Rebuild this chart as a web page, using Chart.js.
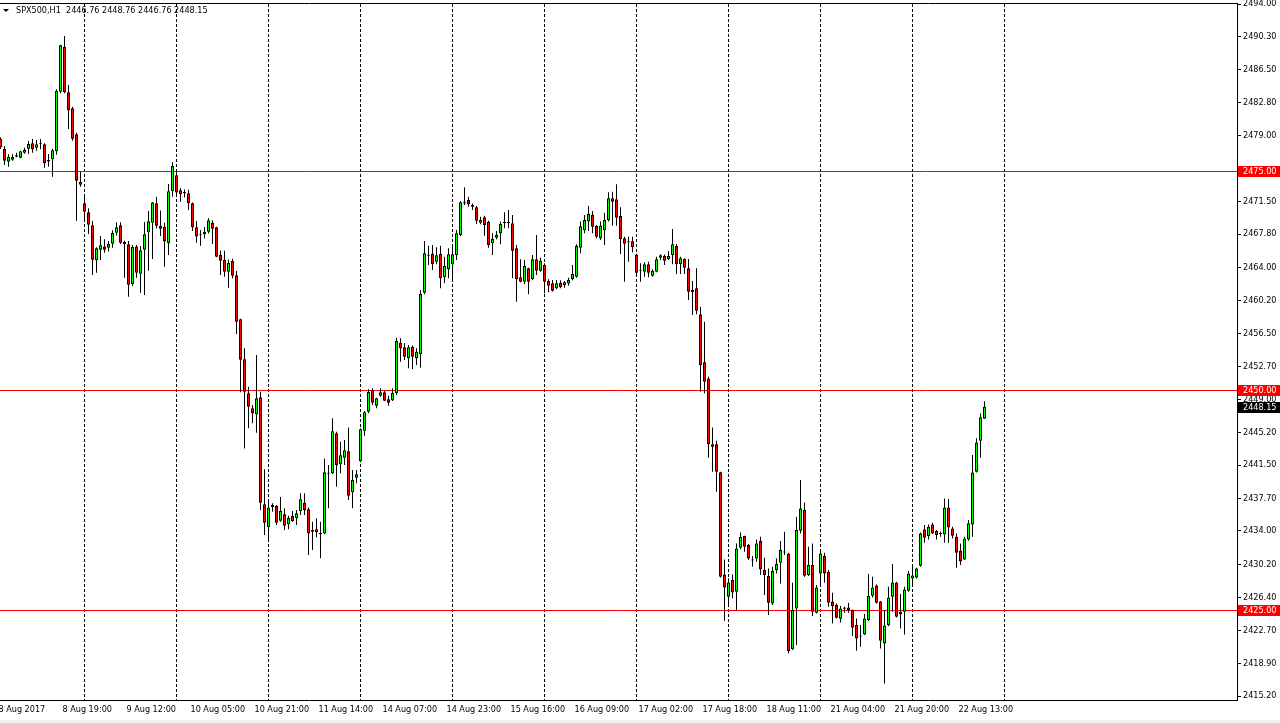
<!DOCTYPE html>
<html>
<head>
<meta charset="utf-8">
<title>SPX500,H1</title>
<script src="https://cdn.jsdelivr.net/npm/chart.js@4.4.1/dist/chart.umd.min.js"></script>
<style>
  html, body { margin: 0; padding: 0; background: #fff; overflow: hidden; }
  canvas { display: block; }
</style>
</head>
<body>
<canvas id="chart" width="1280" height="723"></canvas>
<script>
// SPX500 hourly candles, 8 Aug 2017 .. 22 Aug 2017 (one entry per bar)
const symbol = 'SPX500,H1';

const opens = [
  2478.63, 2477.49, 2476.05, 2476.27, 2476.62, 2476.50, 2477.07, 2477.53, 2478.13, 2477.64,
  2478.10, 2478.02, 2476.24, 2476.31, 2477.22, 2484.02, 2489.10, 2483.94, 2482.12, 2479.16,
  2473.73, 2471.30, 2470.28, 2468.80, 2464.81, 2466.02, 2466.40, 2466.25, 2466.71, 2467.96,
  2468.80, 2466.63, 2466.63, 2462.11, 2466.40, 2463.29, 2466.02, 2468.00, 2469.10, 2471.30,
  2468.72, 2468.61, 2466.75, 2472.67, 2474.49, 2472.78, 2472.59, 2472.44, 2471.30, 2468.57,
  2467.73, 2467.81, 2468.07, 2469.06, 2468.57, 2465.42, 2464.85, 2463.52, 2464.73, 2463.10,
  2458.09, 2453.54, 2449.67, 2447.96, 2447.27, 2449.21, 2437.03, 2434.41, 2436.95, 2436.84,
  2435.16, 2435.89, 2434.75, 2435.70, 2435.43, 2436.27, 2437.22, 2436.46, 2433.91, 2434.18,
  2433.80, 2433.72, 2440.44, 2440.56, 2445.11, 2441.58, 2442.34, 2443.06, 2438.39, 2440.06,
  2441.92, 2445.41, 2447.58, 2450.01, 2448.26, 2449.40, 2449.78, 2448.98, 2448.87, 2449.67,
  2455.44, 2454.91, 2453.65, 2454.98, 2453.65, 2454.11, 2461.13, 2465.42, 2465.57, 2464.66,
  2465.57, 2462.88, 2463.79, 2464.36, 2465.42, 2467.66, 2471.42, 2471.68, 2471.11, 2470.85,
  2469.10, 2469.71, 2469.18, 2466.75, 2467.39, 2467.89, 2469.10, 2469.06, 2469.03, 2466.18,
  2462.88, 2462.38, 2463.90, 2462.65, 2464.93, 2463.64, 2464.28, 2462.46, 2462.19, 2461.62,
  2462.23, 2462.00, 2462.16, 2462.65, 2462.95, 2466.25, 2468.23, 2469.22, 2469.97, 2468.72,
  2467.32, 2468.27, 2469.37, 2471.87, 2471.76, 2469.86, 2467.32, 2466.94, 2466.98, 2465.49,
  2463.67, 2463.52, 2464.36, 2463.07, 2463.52, 2465.12, 2465.31, 2464.93, 2465.42, 2466.44,
  2464.39, 2464.97, 2463.90, 2461.17, 2461.62, 2458.66, 2453.20, 2451.37, 2443.86, 2443.86,
  2440.67, 2429.05, 2426.51, 2428.41, 2427.08, 2432.08, 2433.41, 2432.39, 2430.76, 2430.87,
  2432.84, 2429.54, 2428.86, 2425.75, 2429.54, 2430.38, 2431.63, 2431.44, 2420.55, 2425.18,
  2434.02, 2436.37, 2428.97, 2430.11, 2424.68, 2429.16, 2431.14, 2429.35, 2425.97, 2425.56,
  2424.00, 2425.14, 2425.29, 2424.99, 2423.28, 2422.10, 2422.22, 2423.85, 2426.62, 2427.80,
  2425.97, 2421.19, 2423.28, 2426.51, 2428.10, 2424.80, 2424.80, 2427.19, 2428.59, 2428.71,
  2430.04, 2434.17, 2433.41, 2434.74, 2434.02, 2433.68, 2433.60, 2436.68, 2434.29, 2433.34,
  2431.74, 2430.76, 2433.03, 2434.74, 2440.74, 2444.27, 2446.76
];
const highs = [
  2478.82, 2477.83, 2476.88, 2476.88, 2477.07, 2477.30, 2477.64, 2478.40, 2478.63, 2478.51,
  2478.63, 2478.13, 2476.92, 2477.53, 2484.28, 2489.37, 2490.36, 2484.78, 2482.31, 2479.35,
  2474.91, 2472.36, 2470.73, 2469.29, 2466.29, 2467.58, 2467.20, 2467.01, 2468.23, 2469.14,
  2469.14, 2467.05, 2467.01, 2466.56, 2466.56, 2466.44, 2469.18, 2470.43, 2471.45, 2472.06,
  2470.50, 2469.10, 2473.50, 2475.97, 2475.02, 2473.05, 2472.89, 2472.86, 2471.41, 2469.29,
  2468.26, 2468.61, 2469.63, 2469.37, 2468.64, 2465.91, 2465.91, 2464.89, 2465.00, 2463.59,
  2458.17, 2454.79, 2450.43, 2448.34, 2454.03, 2449.86, 2441.01, 2437.44, 2437.14, 2436.95,
  2437.86, 2436.57, 2435.73, 2436.27, 2436.38, 2438.28, 2438.28, 2436.68, 2435.05, 2435.43,
  2435.05, 2442.26, 2441.50, 2446.82, 2445.30, 2444.16, 2444.35, 2445.79, 2440.94, 2440.94,
  2445.68, 2447.65, 2450.12, 2450.24, 2449.17, 2450.24, 2449.93, 2449.40, 2450.24, 2456.01,
  2455.93, 2455.36, 2455.17, 2455.10, 2454.79, 2461.43, 2467.01, 2466.48, 2466.56, 2466.29,
  2466.48, 2465.23, 2466.18, 2466.63, 2468.27, 2471.57, 2473.13, 2472.06, 2471.27, 2471.00,
  2469.78, 2469.90, 2469.33, 2467.90, 2468.15, 2469.22, 2470.28, 2470.54, 2469.97, 2466.56,
  2464.93, 2464.85, 2463.98, 2465.42, 2467.70, 2465.12, 2464.47, 2462.65, 2462.57, 2462.57,
  2462.54, 2462.46, 2462.84, 2464.28, 2466.63, 2469.22, 2469.97, 2471.00, 2470.43, 2468.84,
  2469.22, 2470.24, 2472.56, 2472.63, 2473.47, 2470.85, 2467.51, 2467.51, 2467.51, 2465.57,
  2464.47, 2464.58, 2464.66, 2463.79, 2465.23, 2465.49, 2465.49, 2465.87, 2468.38, 2466.67,
  2465.23, 2465.04, 2464.97, 2462.46, 2463.90, 2459.54, 2457.83, 2451.56, 2445.79, 2444.28,
  2440.75, 2430.76, 2428.60, 2429.05, 2432.58, 2433.83, 2433.45, 2432.50, 2431.14, 2433.03,
  2433.34, 2430.95, 2429.73, 2429.92, 2430.87, 2432.84, 2433.91, 2431.52, 2428.10, 2435.62,
  2439.79, 2437.25, 2432.20, 2432.58, 2427.83, 2431.63, 2431.52, 2429.54, 2426.96, 2425.75,
  2425.44, 2425.37, 2425.82, 2425.06, 2424.04, 2423.28, 2424.53, 2429.09, 2428.78, 2427.91,
  2426.01, 2424.99, 2427.64, 2430.22, 2428.21, 2426.81, 2427.64, 2429.43, 2430.11, 2429.81,
  2433.83, 2434.67, 2434.74, 2434.93, 2434.10, 2433.91, 2437.70, 2437.63, 2434.48, 2433.72,
  2432.58, 2433.34, 2435.24, 2442.64, 2444.54, 2447.38, 2448.76
];
const lows = [
  2477.49, 2475.67, 2475.48, 2476.16, 2476.54, 2476.43, 2476.96, 2476.92, 2477.07, 2477.30,
  2477.45, 2475.36, 2475.48, 2474.34, 2476.84, 2483.83, 2483.83, 2479.77, 2478.44, 2469.33,
  2473.20, 2469.33, 2467.81, 2463.14, 2463.41, 2464.85, 2465.68, 2465.83, 2466.25, 2467.62,
  2466.67, 2462.84, 2460.67, 2461.89, 2462.84, 2461.13, 2460.86, 2463.63, 2464.96, 2468.45,
  2467.58, 2464.09, 2465.42, 2472.06, 2472.06, 2471.49, 2471.98, 2470.54, 2468.15, 2466.82,
  2466.48, 2467.31, 2467.88, 2466.67, 2465.15, 2463.14, 2462.95, 2461.70, 2462.76, 2456.42,
  2449.78, 2443.40, 2445.68, 2446.25, 2445.19, 2436.38, 2433.53, 2433.08, 2436.19, 2434.67,
  2435.05, 2434.10, 2434.18, 2435.05, 2434.67, 2435.81, 2435.81, 2431.26, 2431.83, 2433.27,
  2430.88, 2433.61, 2436.57, 2440.48, 2439.04, 2440.56, 2441.50, 2437.52, 2436.57, 2439.42,
  2441.81, 2444.85, 2447.39, 2448.34, 2447.96, 2449.29, 2448.79, 2448.26, 2448.79, 2449.48,
  2453.27, 2453.46, 2452.51, 2452.44, 2452.89, 2452.59, 2460.94, 2464.28, 2463.71, 2464.36,
  2461.62, 2462.19, 2462.76, 2462.46, 2464.85, 2467.55, 2471.11, 2470.92, 2470.54, 2468.95,
  2468.91, 2467.62, 2466.25, 2465.42, 2467.20, 2466.63, 2468.46, 2468.46, 2462.76, 2460.11,
  2462.31, 2462.08, 2460.94, 2462.57, 2463.14, 2463.52, 2461.05, 2461.17, 2461.25, 2461.51,
  2461.62, 2461.70, 2461.93, 2462.53, 2462.84, 2465.61, 2467.89, 2468.15, 2467.89, 2467.32,
  2467.13, 2466.56, 2469.22, 2468.76, 2468.76, 2465.53, 2462.38, 2464.66, 2465.72, 2463.14,
  2462.38, 2462.95, 2462.88, 2462.95, 2463.45, 2464.85, 2464.28, 2464.85, 2464.36, 2463.26,
  2463.26, 2463.26, 2460.29, 2458.59, 2458.66, 2449.86, 2449.67, 2442.34, 2440.75, 2438.47,
  2428.71, 2423.78, 2425.56, 2426.32, 2424.99, 2431.90, 2431.63, 2430.68, 2429.92, 2430.49,
  2428.97, 2426.69, 2424.42, 2425.56, 2429.16, 2428.02, 2431.25, 2420.05, 2420.43, 2421.00,
  2433.72, 2428.78, 2428.86, 2424.30, 2424.61, 2427.64, 2428.10, 2425.37, 2423.47, 2424.04,
  2423.58, 2424.68, 2424.68, 2422.03, 2420.36, 2420.81, 2422.14, 2423.73, 2426.43, 2425.75,
  2420.62, 2416.64, 2423.16, 2424.80, 2424.15, 2422.90, 2422.22, 2427.07, 2427.72, 2428.59,
  2429.92, 2432.65, 2433.03, 2433.64, 2433.03, 2433.34, 2432.65, 2432.65, 2433.15, 2429.81,
  2430.11, 2430.68, 2432.88, 2433.34, 2440.66, 2442.33, 2446.76
];
const closes = [
  2477.68, 2476.16, 2476.58, 2476.58, 2476.77, 2477.22, 2477.37, 2478.06, 2477.45, 2478.02,
  2478.12, 2475.86, 2476.08, 2477.34, 2484.09, 2489.29, 2483.94, 2481.89, 2478.67, 2473.88,
  2473.43, 2470.35, 2468.87, 2464.89, 2466.18, 2466.52, 2466.02, 2466.67, 2467.92, 2468.57,
  2466.82, 2466.90, 2462.04, 2466.33, 2463.41, 2465.95, 2467.77, 2469.25, 2471.41, 2468.76,
  2468.42, 2466.97, 2472.67, 2475.55, 2472.55, 2472.33, 2472.44, 2471.30, 2468.57, 2467.54,
  2467.66, 2468.07, 2469.37, 2468.42, 2465.23, 2464.77, 2463.52, 2464.51, 2463.06, 2457.82,
  2453.50, 2449.85, 2448.15, 2447.39, 2449.10, 2437.22, 2434.94, 2436.68, 2436.72, 2434.94,
  2436.27, 2434.60, 2435.47, 2435.13, 2436.00, 2437.60, 2436.38, 2433.72, 2434.10, 2433.84,
  2433.61, 2440.67, 2440.56, 2445.34, 2441.50, 2442.61, 2443.18, 2438.01, 2439.80, 2440.44,
  2445.57, 2447.50, 2449.82, 2448.60, 2449.10, 2449.78, 2448.83, 2448.60, 2449.74, 2455.63,
  2454.79, 2453.84, 2454.91, 2453.84, 2454.41, 2460.98, 2465.61, 2465.34, 2464.36, 2465.38,
  2462.76, 2464.17, 2465.50, 2465.50, 2467.89, 2471.42, 2471.27, 2471.19, 2470.92, 2469.33,
  2469.41, 2468.84, 2466.56, 2467.24, 2467.70, 2468.95, 2469.06, 2469.08, 2465.91, 2462.65,
  2462.38, 2464.17, 2462.38, 2464.93, 2463.64, 2464.77, 2462.38, 2461.93, 2461.36, 2462.19,
  2461.74, 2462.31, 2462.57, 2463.26, 2466.44, 2468.68, 2469.41, 2470.09, 2468.65, 2467.51,
  2468.76, 2469.41, 2471.87, 2471.49, 2469.67, 2467.20, 2466.71, 2466.86, 2466.29, 2463.41,
  2463.64, 2464.36, 2463.41, 2463.64, 2464.93, 2465.38, 2464.77, 2465.31, 2466.63, 2464.36,
  2465.04, 2463.98, 2461.24, 2461.43, 2459.08, 2452.89, 2450.99, 2443.86, 2443.59, 2440.75,
  2428.79, 2427.57, 2428.14, 2427.00, 2432.01, 2433.30, 2432.20, 2430.87, 2430.64, 2432.58,
  2429.62, 2428.97, 2425.82, 2429.43, 2430.22, 2431.82, 2431.55, 2420.32, 2424.99, 2434.10,
  2436.56, 2428.90, 2430.11, 2424.80, 2427.57, 2431.44, 2429.16, 2425.82, 2425.44, 2424.11,
  2425.18, 2425.29, 2424.99, 2422.97, 2421.76, 2421.99, 2424.04, 2426.58, 2427.57, 2425.82,
  2421.49, 2423.24, 2426.43, 2428.14, 2424.23, 2424.49, 2427.34, 2429.16, 2428.93, 2429.73,
  2433.72, 2433.22, 2434.48, 2433.72, 2433.53, 2433.64, 2436.68, 2434.40, 2433.45, 2431.52,
  2430.53, 2433.15, 2434.86, 2440.66, 2444.08, 2446.93, 2448.15
];

// bottom time labels, one every 16 bars starting at bar 0
const timeLabels = [
  '8 Aug 2017', '8 Aug 19:00', '9 Aug 12:00', '10 Aug 05:00', '10 Aug 21:00', '11 Aug 14:00',
  '14 Aug 07:00', '14 Aug 23:00', '15 Aug 16:00', '16 Aug 09:00', '17 Aug 02:00', '17 Aug 18:00',
  '18 Aug 11:00', '21 Aug 04:00', '21 Aug 20:00', '22 Aug 13:00'
];
const labelEvery = 16;
// dotted vertical grid: every 23 bars from bar 21
const gridBars = [21, 44, 67, 90, 113, 136, 159, 182, 205, 228, 251];

// right price scale
const priceTicks = [
  2494.00, 2490.30, 2486.50, 2482.80, 2479.00, 2471.50, 2467.80, 2464.00, 2460.20,
  2456.50, 2452.70, 2449.00, 2445.20, 2441.50, 2437.70, 2434.00, 2430.20, 2426.40, 2422.70,
  2418.90, 2415.20
];
const priceMin = 2414.748, priceMax = 2494.114;

// horizontal levels and last price
const levels = [2475.00, 2450.00, 2425.00];
const lastPrice = 2448.15;

const FONT = '"DejaVu Sans Condensed", "DejaVu Sans", sans-serif';
const FONT_SIZE = 9;

const barIdx = opens.map((_, i) => i);
const bodies = barIdx.map(i => ({ x: i, y: [opens[i], closes[i]] }));
const wicks = barIdx.map(i => ({ x: i, y: [lows[i], highs[i]] }));

const xMin = -0.125, xMax = 309.125;

// kill the label overhang padding chart.js adds around the plot
const noPad = s => { s.paddingLeft = 0; s.paddingRight = 0; s.paddingTop = 0; s.paddingBottom = 0; };

const mt4Plugin = {
  id: 'mt4',
  beforeDraw(chart) {
    const c = chart.ctx;
    c.save();
    c.fillStyle = '#ffffff';
    c.fillRect(0, 0, chart.width, chart.height);
    c.fillStyle = '#f0f0f0';
    c.fillRect(0, 720, chart.width, chart.height - 720);
    c.restore();
  },
  beforeDatasetsDraw(chart) {
    const c = chart.ctx, a = chart.chartArea, ys = chart.scales.y;
    c.save();
    c.strokeStyle = '#ff0000';
    c.lineWidth = 1;
    levels.forEach(v => {
      const py = Math.round(ys.getPixelForValue(v)) + 0.5;
      c.beginPath();
      c.moveTo(a.left, py);
      c.lineTo(a.right, py);
      c.stroke();
    });
    c.restore();
  },
  afterDraw(chart) {
    const c = chart.ctx, a = chart.chartArea, ys = chart.scales.y;
    c.save();
    c.font = FONT_SIZE + 'px ' + FONT;
    c.textBaseline = 'middle';
    c.textAlign = 'left';
    const box = (v, bg) => {
      const py = Math.round(ys.getPixelForValue(v));
      c.fillStyle = bg;
      c.fillRect(a.right + 1, py - 5, chart.width - a.right - 1, 11);
      c.fillStyle = '#ffffff';
      c.fillText(v.toFixed(2), a.right + 6, py + 0.5);
    };
    levels.forEach(v => box(v, '#ff0000'));
    box(lastPrice, '#000000');

    // symbol header
    c.fillStyle = '#000000';
    c.beginPath();
    c.moveTo(3, 9);
    c.lineTo(9, 9);
    c.lineTo(6, 12);
    c.closePath();
    c.fill();
    const n = opens.length - 1;
    c.fillText(symbol + '  ' + [opens[n], highs[n], lows[n], closes[n]].map(v => v.toFixed(2)).join(' '), 16, 11);
    c.restore();
  }
};

new Chart(document.getElementById('chart'), {
  type: 'bar',
  data: {
    datasets: [
      {
        label: 'body',
        data: bodies,
        order: 0,
        grouped: false,
        barPercentage: 0.75,
        categoryPercentage: 1,
        minBarLength: 1,
        backgroundColor: ctx => closes[ctx.dataIndex] >= opens[ctx.dataIndex] ? '#00ff00' : '#ff0000',
        borderColor: '#000000',
        borderWidth: 1,
        borderSkipped: false
      },
      {
        label: 'wick',
        data: wicks,
        order: 1,
        grouped: false,
        barPercentage: 0.25,
        categoryPercentage: 1,
        backgroundColor: '#000000',
        borderWidth: 0
      }
    ]
  },
  options: {
    responsive: false,
    animation: false,
    devicePixelRatio: 1,
    layout: { padding: { top: 3, left: 0, right: 0, bottom: 0 } },
    plugins: { legend: { display: false }, tooltip: { enabled: false } },
    scales: {
      x: {
        type: 'linear',
        position: 'bottom',
        min: xMin,
        max: xMax,
        bounds: 'data',
        offset: false,
        grid: { display: false, drawTicks: false, offset: false },
        border: { display: true, color: '#000000', width: 1 },
        afterBuildTicks: s => { s.ticks = timeLabels.map((_, j) => ({ value: j * labelEvery })); },
        afterFit: s => { s.height = 23; noPad(s); },
        ticks: {
          autoSkip: false,
          maxRotation: 0,
          align: 'start',
          labelOffset: -2,
          padding: 4,
          color: '#000000',
          font: { family: FONT, size: FONT_SIZE },
          callback: v => timeLabels[Math.round(v / labelEvery)]
        }
      },
      xGrid: {
        type: 'linear',
        axis: 'x',
        position: 'top',
        min: xMin,
        max: xMax,
        bounds: 'data',
        offset: false,
        ticks: { display: false },
        grid: { color: '#000000', lineWidth: 1, drawTicks: false, offset: false },
        border: { display: true, color: '#000000', width: 1, dash: [3, 2] },
        afterBuildTicks: s => { s.ticks = gridBars.map(v => ({ value: v })); },
        afterFit: s => { s.height = 0; noPad(s); }
      },
      y: {
        type: 'linear',
        position: 'right',
        min: priceMin,
        max: priceMax,
        bounds: 'data',
        beginAtZero: false,
        grid: { drawOnChartArea: false, drawTicks: true, tickLength: 4, color: '#000000' },
        border: { display: true, color: '#000000', width: 1 },
        afterBuildTicks: s => { s.ticks = priceTicks.map(v => ({ value: v })); },
        afterFit: s => { s.width = 43; noPad(s); },
        ticks: {
          padding: 2,
          color: '#000000',
          font: { family: FONT, size: FONT_SIZE },
          callback: v => v.toFixed(2)
        }
      }
    }
  },
  plugins: [mt4Plugin]
});
</script>
</body>
</html>
